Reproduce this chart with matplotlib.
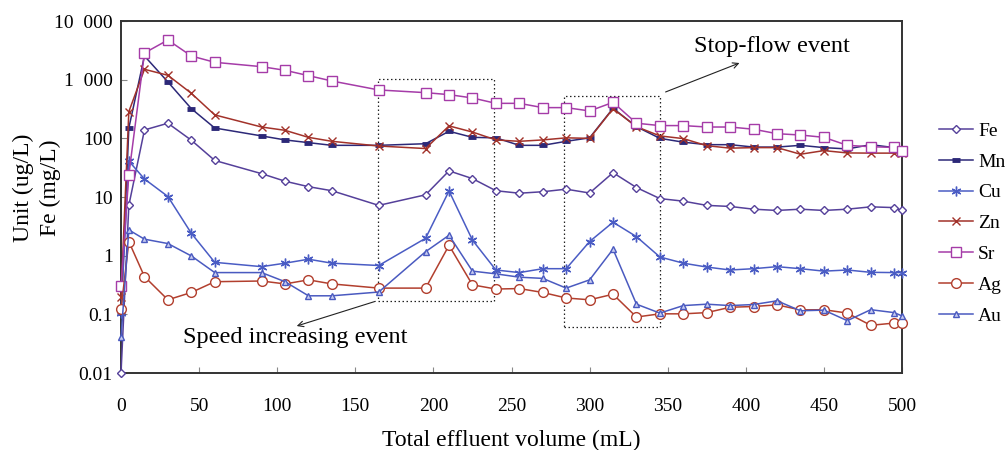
import numpy as np
import matplotlib
matplotlib.use("Agg")
import matplotlib.pyplot as plt
from matplotlib.patches import Rectangle

plt.rcParams["font.family"] = ["Liberation Serif", "DejaVu Serif"]

# Effluent volume (mL)
volume = [0, 5, 15, 30, 45, 60, 90, 105, 120, 135, 165, 195, 210, 225, 240, 255, 270,
          285, 300, 315, 330, 345, 360, 375, 390, 405, 420, 435, 450, 465, 480, 495, 500]

fe = [0.01, 7.2, 139, 181, 93, 42, 25, 18.6, 15, 12.8, 7.2, 10.9, 27.9, 20.6, 12.8, 11.6, 12.3,
      13.6, 11.7, 26, 14.5, 9.4, 8.5, 7.2, 6.9, 6.2, 5.9, 6.2, 5.9, 6.2, 6.8, 6.6, 5.9]
mn = [0.105, 150, 2535, 915, 321, 150, 110, 94, 84.5, 76, 76, 81, 132, 104, 102, 76, 76,
      89, 102, 325, 158, 100, 86, 78, 78, 71, 71, 76, 69.5, 66, 78, 69.5, 65]
cu = [0.105, 41, 20.3, 10.2, 2.41, 0.77, 0.65, 0.745, 0.87, 0.745, 0.68, 1.98, 12.7, 1.84, 0.57,
      0.515, 0.6, 0.6, 1.74, 3.72, 2.11, 0.95, 0.745, 0.64, 0.57, 0.6, 0.65, 0.6, 0.545, 0.57,
      0.52, 0.515, 0.515]
zn = [0.2, 285, 1503, 1188, 586, 251, 156, 137, 104, 89, 74, 67, 163, 128, 94, 89, 94,
      102, 100, 320, 158, 110, 99, 75, 68, 69.5, 69.5, 53.6, 61.8, 56.4, 56, 56, 57]
sr = [0.31, 24, 2851, 4745, 2535, 1978, 1667, 1445, 1172, 950, 668, 601, 556, 488, 395, 395, 334,
      334, 293, 411, 181, 165, 165, 156, 156, 143, 120, 114, 104, 76, 72, 70, 62]
ag = [0.122, 1.74, 0.44, 0.177, 0.236, 0.36, 0.37, 0.33, 0.387, 0.33, 0.28, 0.28, 1.5, 0.318, 0.27,
      0.275, 0.236, 0.19, 0.177, 0.22, 0.09, 0.102, 0.102, 0.107, 0.132, 0.136, 0.145, 0.119,
      0.12, 0.105, 0.065, 0.071, 0.071]
au = [0.041, 2.75, 1.91, 1.61, 0.99, 0.515, 0.515, 0.36, 0.207, 0.207, 0.24, 1.17, 2.23, 0.545,
      0.49, 0.43, 0.41, 0.28, 0.387, 1.29, 0.149, 0.105, 0.141, 0.149, 0.141, 0.147, 0.17, 0.115,
      0.118, 0.078, 0.12, 0.107, 0.094]

y_ticks = [0.01, 0.1, 1, 10, 100, 1000, 10000]
y_tick_labels = ["0.01", "0.1", "1", "10", "100", "1  000", "10  000"]
x_ticks = [0, 50, 100, 150, 200, 250, 300, 350, 400, 450, 500]

# event boxes: (x0, x1, y0, y1)
speed_box = (164.7, 238.7, 0.172, 1028)
stop_box = (283.4, 345, 0.062, 530)

series = [
    ("Fe", fe, dict(color="#55409A", marker="D", ms=4.5, mfc="white", mew=1.0)),
    ("Mn", mn, dict(color="#2C2878", marker="_", ms=6, mew=3.5)),
    ("Cu", cu, dict(color="#4A5CC4", marker=(6, 2, 0), ms=7, mew=1.0)),
    ("Zn", zn, dict(color="#A2322A", marker="x", ms=6, mew=1.0)),
    ("Sr", sr, dict(color="#A53CA8", marker="s", ms=7, mfc="white", mew=1.0)),
    ("Ag", ag, dict(color="#B23F2E", marker="o", ms=7, mfc="white", mew=1.0)),
    ("Au", au, dict(color="#4A5AC0", marker="^", ms=5, mfc="#C8CCF0", mew=1.0)),
]

fig = plt.figure(figsize=(10.06, 4.5), dpi=100)
ax = fig.add_axes([0.1203, 0.1711, 0.7763, 0.7822])

for name, vals, style in series:
    ax.plot(volume, vals, label=name, lw=1.1, clip_on=False, zorder=3, **style)

ax.set_yscale("log")
ax.set_xlim(0, 500)
ax.set_ylim(0.01, 10000)
ax.set_yticks(y_ticks)
ax.set_yticklabels(y_tick_labels)
ax.minorticks_off()
ax.set_xticks(x_ticks)
ax.tick_params(axis="both", direction="in", length=4, width=0.8, colors="#888888",
               labelcolor="black", labelsize=14)
ax.tick_params(axis="x", pad=18)
ax.tick_params(axis="y", pad=6)
for sp in ax.spines.values():
    sp.set_color("#333333")
    sp.set_linewidth(1.4)

ax.set_xlabel("Total effluent volume (mL)", fontsize=17, labelpad=11)
fig.text(37 / 1006, 1 - 188 / 450, "Unit (ug/L)\nFe (mg/L)", fontsize=17, rotation=90,
         ha="center", va="center", linespacing=1.38)

for x0, x1, y0, y1 in (speed_box, stop_box):
    ax.add_patch(Rectangle((x0, y0), x1 - x0, y1 - y0, fill=False, ls=(0, (1.2, 2)),
                           lw=0.9, ec="#222222", zorder=2))

ax.annotate("", xy=(110.8, 0.0612), xytext=(164.5, 0.172),
            arrowprops=dict(arrowstyle="->", lw=0.8, color="#222222"))
ax.text(111.7, 0.04, "Speed increasing event", fontsize=17.5, ha="center", va="center")

ax.annotate("", xy=(397.6, 2003), xytext=(347, 593),
            arrowprops=dict(arrowstyle="->", lw=0.8, color="#222222"))
ax.text(417, 3608, "Stop-flow event", fontsize=17.5, ha="center", va="center")

ax.legend(loc="center left", bbox_to_anchor=(1.025, 0.425), frameon=False, fontsize=14,
          handlelength=1.75, labelspacing=0.68, handletextpad=0.25)

fig.savefig("out.png", dpi=100)
